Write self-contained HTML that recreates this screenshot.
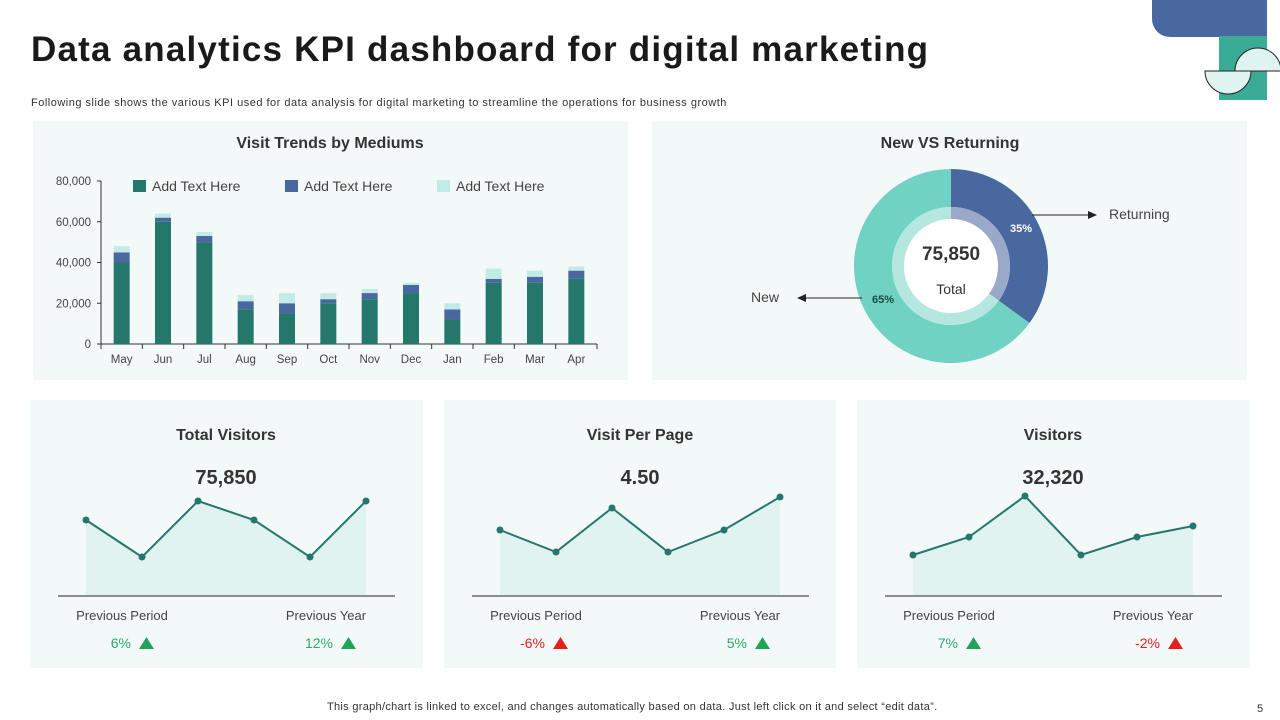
<!DOCTYPE html>
<html><head><meta charset="utf-8"><style>
body{margin:0;width:1280px;height:720px;background:#fff;font-family:"Liberation Sans",sans-serif;position:relative;overflow:hidden;color:#333}
.abs{position:absolute}
.panel{position:absolute;background:#f3f9f8}
</style></head><body>
<div class="abs" style="left:1152px;top:0;width:115px;height:37px;background:#4a68a0;border-bottom-left-radius:18px"></div>
<svg class="abs" style="left:1200px;top:36px" width="80" height="70">
<rect x="19" y="0" width="48" height="64" fill="#3aab96"/>
<path d="M35,35 A23,23 0 0 1 81,35 Z" fill="#dff3f0" stroke="#222" stroke-width="1"/>
<path d="M5,35 A23,23 0 0 0 51,35 Z" fill="#dff3f0" stroke="#222" stroke-width="1"/>
</svg>
<div class="abs" style="left:31px;top:30px;font-size:35px;font-weight:bold;color:#1a1a1a;letter-spacing:1.2px">Data analytics KPI dashboard for digital marketing</div>
<div class="abs" style="left:31px;top:97px;font-size:11px;color:#333;letter-spacing:0.5px;white-space:nowrap">Following slide shows the various KPI used for data analysis for digital marketing to streamline the operations for business growth</div>

<div class="panel" style="left:33px;top:121px;width:595px;height:259px"></div>
<div class="panel" style="left:652px;top:121px;width:595px;height:259px"></div>
<div class="panel" style="left:30px;top:400px;width:393px;height:268px"></div>
<div class="panel" style="left:444px;top:400px;width:392px;height:268px"></div>
<div class="panel" style="left:857px;top:400px;width:393px;height:268px"></div>

<svg class="abs" id="main" style="left:0;top:0" width="1280" height="720"></svg>

<div class="abs" style="left:327px;top:701px;font-size:11px;color:#333;letter-spacing:0.3px;white-space:nowrap">This graph/chart is linked to excel,  and changes automatically based on data. Just left click on it and select “edit data”.</div>
<div class="abs" style="left:1257px;top:703px;font-size:11px;color:#333">5</div>

<script>
const months=["May","Jun","Jul","Aug","Sep","Oct","Nov","Dec","Jan","Feb","Mar","Apr"];
const series1=[40000,60000,50000,17000,15000,20000,22000,25000,12000,30000,30000,32000];
const series2=[5000,2000,3000,4000,5000,2000,3000,4000,5000,2000,3000,4000];
const series3=[3000,2000,2000,3000,5000,3000,2000,1000,3000,5000,3000,2000];
const yTicks=[0,20000,40000,60000,80000];
const seriesNames=["Add Text Here","Add Text Here","Add Text Here"];
const donutValues=[35,65];
const donutLabels=["Returning","New"];
const spark1=[75,38,94,75,38,94];
const spark2=[65,43,87,43,65,98];
const spark3=[40,58,99,40,58,69];

const NS="http://www.w3.org/2000/svg";
const svg=document.getElementById("main");
function mk(t,a,txt){const e=document.createElementNS(NS,t);for(const k in a)e.setAttribute(k,a[k]);if(txt!==undefined)e.textContent=txt;svg.appendChild(e);return e;}
const F='"Liberation Sans",sans-serif';

const x0=101,x1=597,yb=344,yt=181;
const ys=v=>yb-(v/80000)*(yb-yt);
const bw=(x1-x0)/months.length;
const xs=i=>x0+bw*(i+0.5);
let t=mk("text",{x:330,y:148,"text-anchor":"middle","font-size":16,"font-weight":"bold",fill:"#333","font-family":F},"Visit Trends by Mediums");

let ax=mk("line",{x1:x0,y1:yt,x2:x0,y2:yb,stroke:"#333","stroke-width":1});

ax=mk("line",{x1:x0,y1:yb,x2:x1,y2:yb,stroke:"#333","stroke-width":1});

yTicks.forEach(v=>{
  mk("line",{x1:x0-4,y1:ys(v),x2:x0,y2:ys(v),stroke:"#333"});
  const e=mk("text",{x:x0-10,y:ys(v)+4,"text-anchor":"end","font-size":11.5,fill:"#444","font-family":F},v.toLocaleString("en-US"));
  
});
for(let i=0;i<=months.length;i++)mk("line",{x1:x0+bw*i,y1:yb,x2:x0+bw*i,y2:yb+5,stroke:"#333"});
const cols=["#23776b","#4a68a0","#c3ebe6"];
months.forEach((m,i)=>{
  const e=mk("text",{x:xs(i),y:363,"text-anchor":"middle","font-size":11.5,fill:"#444","font-family":F},m);
  
  let base=0;
  [series1,series2,series3].forEach((s,k)=>{
    const r=mk("rect",{x:xs(i)-8,y:ys(base+s[i]),width:16,height:ys(base)-ys(base+s[i]),fill:cols[k]});
    
    base+=s[i];
  });
});
seriesNames.forEach((n,k)=>{
  const lx=133+k*152;
  const r=mk("rect",{x:lx,y:180,width:13,height:12,fill:cols[k]});
  
  const e=mk("text",{x:lx+19,y:191,"font-size":14,fill:"#444","font-family":F},n);
  
});

t=mk("text",{x:950,y:148,"text-anchor":"middle","font-size":16,"font-weight":"bold",fill:"#333","font-family":F},"New VS Returning");

const cx=951,cy=266;
function arc(r0,r1,a0,a1){
  const p=(r,a)=>[cx+r*Math.sin(a),cy-r*Math.cos(a)];
  const L=(a1-a0)>Math.PI?1:0;
  const [ax1,ay1]=p(r1,a0),[bx,by]=p(r1,a1),[cx2,cy2]=p(r0,a1),[dx,dy]=p(r0,a0);
  return `M${ax1},${ay1}A${r1},${r1} 0 ${L} 1 ${bx},${by}L${cx2},${cy2}A${r0},${r0} 0 ${L} 0 ${dx},${dy}Z`;
}
const tot=donutValues.reduce((a,b)=>a+b,0);
let a0=0;
const dcol=["#4a68a0","#70d2c3"],dinner=["#9aa9c9","#b5e6df"];
donutValues.forEach((v,i)=>{
  const a1=a0+v/tot*2*Math.PI;
  const s=mk("path",{d:arc(59,97,a0,a1),fill:dcol[i]});
  
  mk("path",{d:arc(47,59,a0,a1),fill:dinner[i]});
  a0=a1;
});
mk("circle",{cx:cx,cy:cy,r:47,fill:"#fff"});
t=mk("text",{x:cx,y:260,"text-anchor":"middle","font-size":19,"font-weight":"bold",fill:"#333","font-family":F},"75,850");

t=mk("text",{x:cx,y:294,"text-anchor":"middle","font-size":14,fill:"#333","font-family":F},"Total");

t=mk("text",{x:1021,y:232,"text-anchor":"middle","font-size":11,"font-weight":"bold",fill:"#fff","font-family":F},donutValues[0]+"%");

t=mk("text",{x:883,y:303,"text-anchor":"middle","font-size":11,"font-weight":"bold",fill:"#1d4a44","font-family":F},donutValues[1]+"%");

mk("line",{x1:1032,y1:215,x2:1090,y2:215,stroke:"#222"});
mk("path",{d:"M1097,215 L1088,211 L1088,219Z",fill:"#222"});
mk("line",{x1:862,y1:298,x2:805,y2:298,stroke:"#222"});
mk("path",{d:"M797,298 L806,294 L806,302Z",fill:"#222"});
t=mk("text",{x:1109,y:219,"font-size":14,fill:"#444","font-family":F},donutLabels[0]);

t=mk("text",{x:751,y:302,"font-size":14,fill:"#444","font-family":F},donutLabels[1]);


const cards=[
 {title:"Total Visitors",val:"75,850",data:spark1,left:30,p1:"6%",p2:"12%",u1:true,u2:true},
 {title:"Visit Per Page",val:"4.50",data:spark2,left:444,p1:"-6%",p2:"5%",u1:false,u2:true},
 {title:"Visitors",val:"32,320",data:spark3,left:857,p1:"7%",p2:"-2%",u1:true,u2:false}];
cards.forEach((c,ci)=>{
  const L=c.left,cxm=L+196;
  let e=mk("text",{x:cxm,y:440,"text-anchor":"middle","font-size":16,"font-weight":"bold",fill:"#333","font-family":F},c.title);
  
  e=mk("text",{x:cxm,y:484,"text-anchor":"middle","font-size":20,"font-weight":"bold",fill:"#333","font-family":F},c.val);
  
  const base=595,px=i=>L+56+i*56,py=v=>base-v;
  const pts=c.data.map((v,i)=>[px(i),py(v)]);
  const area=mk("path",{d:"M"+px(0)+","+base+" L"+pts.map(p=>p.join(",")).join(" L")+" L"+px(c.data.length-1)+","+base+"Z",fill:"#e1f3f1"});
  
  const ln=mk("polyline",{points:pts.map(p=>p.join(",")).join(" "),fill:"none",stroke:"#24776b","stroke-width":2});
  
  pts.forEach(p=>{const d=mk("circle",{cx:p[0],cy:p[1],r:3.5,fill:"#24776b"});});
  mk("line",{x1:L+28,y1:base+1,x2:L+365,y2:base+1,stroke:"#222","stroke-width":1});
  e=mk("text",{x:L+92,y:620,"text-anchor":"middle","font-size":13,fill:"#444","font-family":F},"Previous  Period");
  
  e=mk("text",{x:L+296,y:620,"text-anchor":"middle","font-size":13,fill:"#444","font-family":F},"Previous  Year");
  
  [[c.p1,c.u1,L+91],[c.p2,c.u2,L+293]].forEach(([p,up,x])=>{
    const col=up?"#21a35a":"#e01f1f";
    const tx=mk("text",{x:x+10,y:648,"text-anchor":"end","font-size":14,fill:up?"#2fa868":"#e01f1f","font-family":F},p);
    
    const tr=mk("path",{d:`M${x+18},649 L${x+33},649 L${x+25.5},637Z`,fill:col});
    
  });
});
</script>
</body></html>
